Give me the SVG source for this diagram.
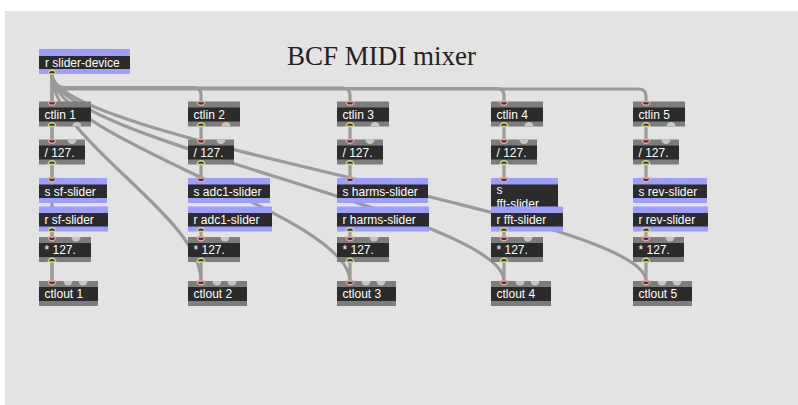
<svg xmlns="http://www.w3.org/2000/svg" xmlns:xlink="http://www.w3.org/1999/xlink" width="798" height="405" viewBox="0 0 798 405">
<style>
.bg{fill:#e3e3e3}
.g{fill:#7d7d7d}
.b{fill:#9d9dfb}
.d{fill:#2b2b2b}
.t{font-family:"Liberation Sans",Arial,sans-serif;font-size:12px;fill:#ffffff}
.title{font-family:"Liberation Serif","Times New Roman",serif;font-size:27px;fill:#222222}
.cord{fill:none;stroke:#9a9a9a;stroke-width:3.2;stroke-linecap:round}
.pin{fill:#3a3a3a;stroke:#e8a49c;stroke-width:1.4}
.pout{fill:#3a3a3a;stroke:#d6d68a;stroke-width:1.4}
.free{fill:#c6c6c6}
</style>
<defs>
<path id="inU" class="pin" d="M-3.8,0 A3.8,3.8 0 0 0 3.8,0 Z"/>
<path id="outU" class="pout" d="M-3.8,0 A3.8,3.8 0 0 1 3.8,0 Z"/>
<path id="inF" class="free" d="M-4.5,0 A4.5,4.5 0 0 0 4.5,0 Z"/>
<path id="outF" class="free" d="M-4.5,0 A4.5,4.5 0 0 1 4.5,0 Z"/>
</defs>
<rect x="0" y="0" width="798" height="405" fill="#ffffff"/>
<rect class="bg" x="5" y="11" width="793" height="394"/>
<text class="title" x="287" y="65">BCF MIDI mixer</text>

<g id="connectors">
<!-- r slider-device to ctlin 1..5 -->
<path class="cord" d="M52,74 L52,101.5"/>
<path class="cord" d="M52,74 C52,82 56,87.5 66,87.5 L193,87.5 Q201,87.5 201,95 L201,101.5"/>
<path class="cord" d="M52,74 C52,82 56,88 66,88 L342,88 Q350,88 350,95 L350,101.5"/>
<path class="cord" d="M52,74 C52,82 56,88.5 66,88.5 L496,88.5 Q504,88.5 504,95.5 L504,101.5"/>
<path class="cord" d="M52,74 C52,82 56,89 66,89 L638,89 Q646,89 646,96 L646,101.5"/>
<!-- r slider-device to ctlout 1..5 -->
<path class="cord" d="M52,74 L52,281"/>
<path class="cord" d="M52,74 C52,140 201,215 201,281"/>
<path class="cord" d="M52,74 C52,140 350,215 350,281"/>
<path class="cord" d="M52,74 C52,140 504,215 504,281"/>
<path class="cord" d="M52,74 C52,140 646,215 646,281"/>
<!-- column chains -->
<path class="cord" d="M52,126.5 V139.5 M52,164.5 V178 M52,231.5 V237 M52,262 V281"/>
<path class="cord" d="M201,126.5 V139.5 M201,164.5 V178 M201,231.5 V237 M201,262 V281"/>
<path class="cord" d="M350,126.5 V139.5 M350,164.5 V178 M350,231.5 V237 M350,262 V281"/>
<path class="cord" d="M504,126.5 V139.5 M504,164.5 V178 M504,231.5 V237 M504,262 V281"/>
<path class="cord" d="M646,126.5 V139.5 M646,164.5 V178 M646,231.5 V237 M646,262 V281"/>
</g>

<g id="r-slider-device">
<rect class="b" x="39" y="49" width="91" height="25"/>
<rect class="d" x="39" y="56" width="91" height="13"/>
<text class="t" x="45" y="66.5">r slider-device</text>
<use xlink:href="#outU" x="52" y="74"/>
</g>

<g id="ctlin-1">
<rect class="g" x="39" y="101.5" width="52" height="25"/>
<rect class="d" x="39" y="107.5" width="52" height="14"/>
<text class="t" x="44.5" y="118.5">ctlin 1</text>
<use xlink:href="#inU" x="52" y="101.5"/><use xlink:href="#outU" x="52" y="126.5"/><use xlink:href="#outF" x="77" y="126.5"/>
</g>
<g id="ctlin-2">
<rect class="g" x="188" y="101.5" width="52" height="25"/>
<rect class="d" x="188" y="107.5" width="52" height="14"/>
<text class="t" x="193.5" y="118.5">ctlin 2</text>
<use xlink:href="#inU" x="201" y="101.5"/><use xlink:href="#outU" x="201" y="126.5"/><use xlink:href="#outF" x="226" y="126.5"/>
</g>
<g id="ctlin-3">
<rect class="g" x="337" y="101.5" width="52" height="25"/>
<rect class="d" x="337" y="107.5" width="52" height="14"/>
<text class="t" x="342.5" y="118.5">ctlin 3</text>
<use xlink:href="#inU" x="350" y="101.5"/><use xlink:href="#outU" x="350" y="126.5"/><use xlink:href="#outF" x="375" y="126.5"/>
</g>
<g id="ctlin-4">
<rect class="g" x="491" y="101.5" width="52" height="25"/>
<rect class="d" x="491" y="107.5" width="52" height="14"/>
<text class="t" x="496.5" y="118.5">ctlin 4</text>
<use xlink:href="#inU" x="504" y="101.5"/><use xlink:href="#outU" x="504" y="126.5"/><use xlink:href="#outF" x="529" y="126.5"/>
</g>
<g id="ctlin-5">
<rect class="g" x="633" y="101.5" width="52" height="25"/>
<rect class="d" x="633" y="107.5" width="52" height="14"/>
<text class="t" x="638.5" y="118.5">ctlin 5</text>
<use xlink:href="#inU" x="646" y="101.5"/><use xlink:href="#outU" x="646" y="126.5"/><use xlink:href="#outF" x="671" y="126.5"/>
</g>

<g id="div-1">
<rect class="g" x="39" y="139.5" width="46" height="25"/>
<rect class="d" x="39" y="145.5" width="46" height="14"/>
<text class="t" x="44.5" y="156.5">/ 127.</text>
<use xlink:href="#inU" x="52" y="139.5"/><use xlink:href="#inF" x="72" y="139.5"/><use xlink:href="#outU" x="52" y="164.5"/>
</g>
<g id="div-2">
<rect class="g" x="188" y="139.5" width="46" height="25"/>
<rect class="d" x="188" y="145.5" width="46" height="14"/>
<text class="t" x="193.5" y="156.5">/ 127.</text>
<use xlink:href="#inU" x="201" y="139.5"/><use xlink:href="#inF" x="221" y="139.5"/><use xlink:href="#outU" x="201" y="164.5"/>
</g>
<g id="div-3">
<rect class="g" x="337" y="139.5" width="46" height="25"/>
<rect class="d" x="337" y="145.5" width="46" height="14"/>
<text class="t" x="342.5" y="156.5">/ 127.</text>
<use xlink:href="#inU" x="350" y="139.5"/><use xlink:href="#inF" x="370" y="139.5"/><use xlink:href="#outU" x="350" y="164.5"/>
</g>
<g id="div-4">
<rect class="g" x="491" y="139.5" width="46" height="25"/>
<rect class="d" x="491" y="145.5" width="46" height="14"/>
<text class="t" x="496.5" y="156.5">/ 127.</text>
<use xlink:href="#inU" x="504" y="139.5"/><use xlink:href="#inF" x="524" y="139.5"/><use xlink:href="#outU" x="504" y="164.5"/>
</g>
<g id="div-5">
<rect class="g" x="633" y="139.5" width="46" height="25"/>
<rect class="d" x="633" y="145.5" width="46" height="14"/>
<text class="t" x="638.5" y="156.5">/ 127.</text>
<use xlink:href="#inU" x="646" y="139.5"/><use xlink:href="#inF" x="666" y="139.5"/><use xlink:href="#outU" x="646" y="164.5"/>
</g>

<g id="s-sf-slider">
<rect class="b" x="39" y="178" width="68" height="25"/>
<rect class="d" x="39" y="184.5" width="68" height="13.5"/>
<text class="t" x="44.5" y="195.5">s sf-slider</text>
<use xlink:href="#inU" x="52" y="178"/>
</g>
<g id="s-adc1-slider">
<rect class="b" x="188" y="178" width="82" height="25"/>
<rect class="d" x="188" y="184.5" width="82" height="13.5"/>
<text class="t" x="193.5" y="195.5">s adc1-slider</text>
<use xlink:href="#inU" x="201" y="178"/>
</g>
<g id="s-harms-slider">
<rect class="b" x="337" y="178" width="91" height="25"/>
<rect class="d" x="337" y="184.5" width="91" height="13.5"/>
<text class="t" x="342.5" y="195.5">s harms-slider</text>
<use xlink:href="#inU" x="350" y="178"/>
</g>
<g id="s-fft-slider">
<rect class="b" x="491" y="178" width="67" height="38"/>
<rect class="d" x="491" y="184.5" width="67" height="27"/>
<text class="t" x="496.5" y="194">s</text>
<text class="t" x="496.5" y="208">fft-slider</text>
<use xlink:href="#inU" x="504" y="178"/>
</g>
<g id="s-rev-slider">
<rect class="b" x="633" y="178" width="74" height="25"/>
<rect class="d" x="633" y="184.5" width="74" height="13.5"/>
<text class="t" x="638.5" y="195.5">s rev-slider</text>
<use xlink:href="#inU" x="646" y="178"/>
</g>

<g id="r-sf-slider">
<rect class="b" x="39" y="206.5" width="69" height="25"/>
<rect class="d" x="39" y="213" width="69" height="13.5"/>
<text class="t" x="44.5" y="224">r sf-slider</text>
<use xlink:href="#outU" x="52" y="231.5"/>
</g>
<g id="r-adc1-slider">
<rect class="b" x="188" y="206.5" width="84" height="25"/>
<rect class="d" x="188" y="213" width="84" height="13.5"/>
<text class="t" x="193.5" y="224">r adc1-slider</text>
<use xlink:href="#outU" x="201" y="231.5"/>
</g>
<g id="r-harms-slider">
<rect class="b" x="337" y="206.5" width="92" height="25"/>
<rect class="d" x="337" y="213" width="92" height="13.5"/>
<text class="t" x="342.5" y="224">r harms-slider</text>
<use xlink:href="#outU" x="350" y="231.5"/>
</g>
<g id="r-fft-slider">
<rect class="b" x="491" y="206.5" width="72" height="25"/>
<rect class="d" x="491" y="213" width="72" height="13.5"/>
<text class="t" x="496.5" y="224">r fft-slider</text>
<use xlink:href="#outU" x="504" y="231.5"/>
</g>
<g id="r-rev-slider">
<rect class="b" x="633" y="206.5" width="75" height="25"/>
<rect class="d" x="633" y="213" width="75" height="13.5"/>
<text class="t" x="638.5" y="224">r rev-slider</text>
<use xlink:href="#outU" x="646" y="231.5"/>
</g>

<g id="mul-1">
<rect class="g" x="39" y="237" width="52" height="25"/>
<rect class="d" x="39" y="243" width="52" height="14"/>
<text class="t" x="44.5" y="254">* 127.</text>
<use xlink:href="#inU" x="52" y="237"/><use xlink:href="#inF" x="76" y="237"/><use xlink:href="#outU" x="52" y="262"/>
</g>
<g id="mul-2">
<rect class="g" x="188" y="237" width="52" height="25"/>
<rect class="d" x="188" y="243" width="52" height="14"/>
<text class="t" x="193.5" y="254">* 127.</text>
<use xlink:href="#inU" x="201" y="237"/><use xlink:href="#inF" x="225" y="237"/><use xlink:href="#outU" x="201" y="262"/>
</g>
<g id="mul-3">
<rect class="g" x="337" y="237" width="52" height="25"/>
<rect class="d" x="337" y="243" width="52" height="14"/>
<text class="t" x="342.5" y="254">* 127.</text>
<use xlink:href="#inU" x="350" y="237"/><use xlink:href="#inF" x="374" y="237"/><use xlink:href="#outU" x="350" y="262"/>
</g>
<g id="mul-4">
<rect class="g" x="491" y="237" width="52" height="25"/>
<rect class="d" x="491" y="243" width="52" height="14"/>
<text class="t" x="496.5" y="254">* 127.</text>
<use xlink:href="#inU" x="504" y="237"/><use xlink:href="#inF" x="528" y="237"/><use xlink:href="#outU" x="504" y="262"/>
</g>
<g id="mul-5">
<rect class="g" x="633" y="237" width="51" height="25"/>
<rect class="d" x="633" y="243" width="51" height="14"/>
<text class="t" x="638.5" y="254">* 127.</text>
<use xlink:href="#inU" x="646" y="237"/><use xlink:href="#inF" x="670" y="237"/><use xlink:href="#outU" x="646" y="262"/>
</g>

<g id="ctlout-1">
<rect class="g" x="39" y="281" width="59" height="25"/>
<rect class="d" x="39" y="287" width="59" height="14"/>
<text class="t" x="44.5" y="298">ctlout 1</text>
<use xlink:href="#inU" x="52" y="281"/><use xlink:href="#inF" x="68" y="281"/><use xlink:href="#inF" x="83" y="281"/>
</g>
<g id="ctlout-2">
<rect class="g" x="188" y="281" width="59" height="25"/>
<rect class="d" x="188" y="287" width="59" height="14"/>
<text class="t" x="193.5" y="298">ctlout 2</text>
<use xlink:href="#inU" x="201" y="281"/><use xlink:href="#inF" x="217" y="281"/><use xlink:href="#inF" x="232" y="281"/>
</g>
<g id="ctlout-3">
<rect class="g" x="337" y="281" width="59" height="25"/>
<rect class="d" x="337" y="287" width="59" height="14"/>
<text class="t" x="342.5" y="298">ctlout 3</text>
<use xlink:href="#inU" x="350" y="281"/><use xlink:href="#inF" x="366" y="281"/><use xlink:href="#inF" x="381" y="281"/>
</g>
<g id="ctlout-4">
<rect class="g" x="491" y="281" width="60" height="25"/>
<rect class="d" x="491" y="287" width="60" height="14"/>
<text class="t" x="496.5" y="298">ctlout 4</text>
<use xlink:href="#inU" x="504" y="281"/><use xlink:href="#inF" x="520" y="281"/><use xlink:href="#inF" x="535" y="281"/>
</g>
<g id="ctlout-5">
<rect class="g" x="633" y="281" width="59" height="25"/>
<rect class="d" x="633" y="287" width="59" height="14"/>
<text class="t" x="638.5" y="298">ctlout 5</text>
<use xlink:href="#inU" x="646" y="281"/><use xlink:href="#inF" x="662" y="281"/><use xlink:href="#inF" x="677" y="281"/>
</g>
</svg>
